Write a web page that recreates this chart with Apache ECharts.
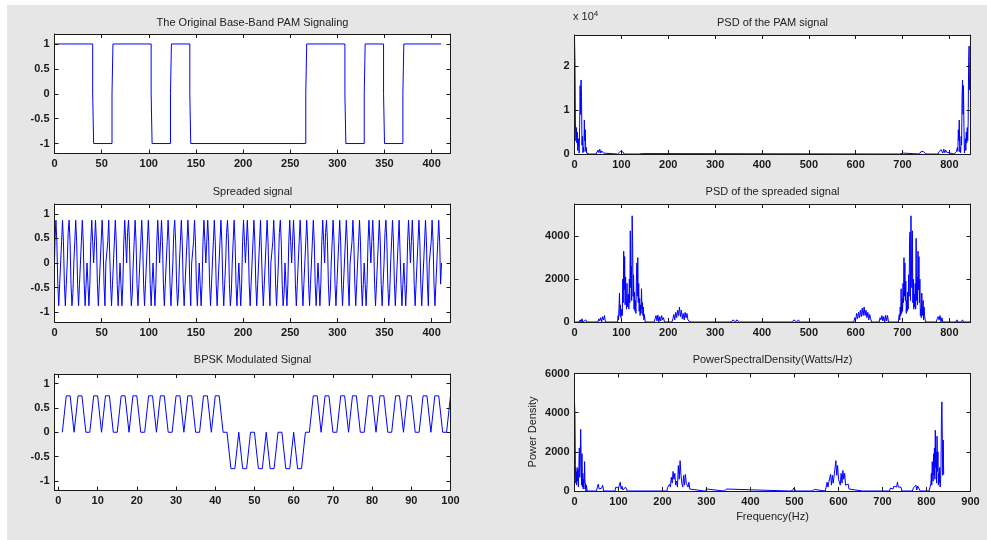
<!DOCTYPE html>
<html><head><meta charset="utf-8">
<script src="https://cdn.jsdelivr.net/npm/echarts@6/dist/echarts.min.js"></script>
<style>html,body{margin:0;padding:0;background:#fff}#c{width:987px;height:540px}</style>
</head><body><div id="c"></div>
<script>
// ---------- DATA ----------
const titles = ["The Original Base-Band PAM Signaling","Spreaded signal","BPSK Modulated Signal",
  "PSD of the PAM signal","PSD of the spreaded signal","PowerSpectralDensity(Watts/Hz)"];

// PAM: bit edges (x where level changes) and levels between them
const pamEdges = [40.5, 61, 102.5, 123, 143.5, 266.5, 308, 328.5, 349, 369.5];
const pamLevels = [1, -1, 1, -1, 1, -1, 1, -1, 1, -1, 1];
const pamEnd = 410;

// Spreaded signal samples, x = 0,1,2,...
const spreadVals = [
0,0.43,0.87,0.43,-0.43,-0.87,-0.43,
0,0.43,0.87,0.43,-0.43,-0.87,-0.43,
0,0.62,0.87,0.43,-0.43,-0.87,-0.62,
0,0.43,0.87,0.43,-0.43,-0.87,-0.43,
0,0.43,0.87,0.43,-0.43,-0.87,-0.43,
0,-0.43,-0.87,-0.43,0.43,0.87,0.43,
0,0.43,0.87,0.43,-0.43,-0.87,-0.43,
0,0,0.87,0.43,-0.43,-0.87,0,
0,0.43,0.87,0.87,-0.43,-0.87,-0.43,
0,0.43,0.87,0.43,-0.43,-0.87,-0.43,
0,-0.43,-0.87,-0.43,0.43,0.87,0.43,
0,0.62,0.87,0.43,-0.43,-0.87,-0.62,
0,0.43,0.87,0.43,-0.43,-0.87,-0.43,
0,0.43,0.87,0.43,-0.43,-0.87,-0.43,
0,0.43,0.87,0.43,-0.43,-0.87,-0.43,
0,-0.43,-0.87,-0.43,0.43,0.87,0.43,
0,0.43,0.87,0.43,-0.43,-0.87,-0.43,
0,0.43,0.87,0.43,-0.43,-0.87,-0.43,
0,0.62,0.87,0.43,-0.43,-0.87,-0.62,
0,0.43,0.87,0.43,-0.43,-0.87,-0.43,
0,0,0.87,0.43,-0.43,-0.87,0,
0,0.43,0.87,0.43,-0.43,-0.87,-0.43,
0,-0.43,-0.87,-0.43,0.43,0.87,0.43,
0,0.43,0.87,0.43,-0.43,-0.87,-0.43,
0,0.43,0.87,0.43,-0.43,-0.87,-0.43,
0,0.43,0.87,0.43,-0.43,-0.87,-0.43,
0,0.62,0.87,0.43,-0.43,-0.87,-0.62,
0,0.43,0.87,0.43,-0.43,-0.87,-0.43,
0,-0.43,-0.87,-0.43,0.43,0.87,0.43,
0,0.43,0.87,0.43,-0.43,-0.87,-0.43,
0,0.43,0.87,0.43,-0.43,-0.87,-0.43,
0,0.43,0.87,0.87,-0.43,-0.87,-0.43,
0,0,0.87,0.43,-0.43,-0.87,0,
0,0.43,0.87,0.43,-0.43,-0.87,-0.43,
0,0.62,0.87,0.43,-0.43,-0.87,-0.62,
0,-0.43,-0.87,-0.43,0.43,0.87,0.43,
0,0.43,0.87,0.43,-0.43,-0.87,-0.43,
0,0.43,0.87,0.43,-0.43,-0.87,-0.43,
0,0.43,0.87,0.43,-0.43,-0.87,-0.43,
0,0.43,0.87,0.43,-0.43,-0.87,-0.43,
0,-0.43,-0.87,-0.43,0.43,0.87,0.43,
0,0.62,0.87,0.43,-0.43,-0.87,-0.62,
0,0.43,0.87,0.43,-0.43,-0.87,-0.43,
0,0.43,0.87,0.43,-0.43,-0.87,-0.43,
0,0,0.87,0.43,-0.43,-0.87,0,
0,0.43,0.87,0.43,-0.43,-0.87,-0.43,
0,0.43,0.87,0.43,-0.43,-0.87,-0.43,
0,-0.43,-0.87,-0.43,0.43,0.87,0.43,
0,0.43,0.87,0.43,-0.43,-0.87,-0.43,
0,0.43,0.87,0.43,-0.43,-0.87,-0.43,
0,0.62,0.87,0.43,-0.43,-0.87,-0.62,
0,0.43,0.87,0.43,-0.43,-0.87,-0.43,
0,0.43,0.87,0.87,-0.43,-0.87,-0.43,
0,-0.43,-0.87,-0.43,0.43,0.87,0.43,
0,0.43,0.87,0.43,-0.43,-0.87,-0.43,
0,0.43,0.87,0.43,-0.43,-0.87,-0.43,
0,0,0.87,0.43,-0.43,-0.87,0,
0,0.43,0.87,0.43,-0.43,-0.87,-0.43,
0,0.43,0.87,0.43,-0.43,0
];

// BPSK samples, x = 1..100
const bpskVals = [
0,0.75,0.75,0,0.75,0.75,0,0,0.75,0.75,
0,0.75,0.75,0,0,0.75,0.75,0,0.75,0.75,
0,0,0.75,0.75,0,0.75,0.75,0,0,0.75,
0.75,0,0.75,0.75,0,0,0.75,0.75,0,0.75,
0.75,0,0,-0.75,-0.75,0,-0.75,-0.75,0,0,
-0.75,-0.75,0,-0.75,-0.75,0,0,-0.75,-0.75,0,
-0.75,-0.75,0,0,0.75,0.75,0,0.75,0.75,0,
0,0.75,0.75,0,0.75,0.75,0,0,0.75,0.75,
0,0.75,0.75,0,0,0.75,0.75,0,0.75,0.75,
0,0,0.75,0.75,0,0.75,0.75,0,0,0.75
];

// PSD of PAM signal: [frequency, value]
const psdPam = [
[0,26500],[1,21000],[2,7000],[3,3000],[4,6000],[5,2500],[6,5000],[7,800],[8,3500],[9,1500],[10,200],
[11,6000],[12,15500],[13,9000],[14,16800],[15,13000],[16,2000],[17,4000],[18,300],[19,1500],[20,500],
[21,7700],[22,3000],[23,5500],[24,600],[25,1500],[26,200],[27,500],[28,0],[30,200],[32,0],[46,0],
[48,400],[50,900],[52,300],[54,1100],[56,200],[58,700],[60,1000],[62,200],[64,500],[66,0],[92,0],
[95,300],[98,600],[100,200],[103,500],[106,0],[137,0],[140,200],[145,100],[148,0],
[694,0],[697,100],[702,200],[705,0],[736,0],[739,500],[742,200],[744,600],[747,300],[750,0],
[776,0],[778,500],[780,200],[782,1000],[784,700],[786,200],[788,1100],[790,300],[792,900],[794,400],[797,0],
[810,0],[812,200],[814,0],[815,500],[816,200],[817,1500],[818,600],[819,5500],[820,3000],[821,7700],
[822,500],[823,1500],[824,300],[825,4000],[826,2000],[827,13000],[828,16800],[829,9000],[830,15500],
[831,6000],[832,200],[833,1500],[834,3500],[835,800],[836,5000],[837,2500],[838,6000],[839,3000],
[840,7000],[841,21000],[842,24500],[843,14500]
];

// PSD of spreaded signal
const psdSpread = [
[0,0],[10,0],[12,100],[14,0],[16,150],[18,0],[22,0],[24,100],[26,0],
[50,0],[52,150],[54,50],[56,200],[58,0],[60,250],[62,100],[64,300],[66,0],
[92,0],[93,300],[94,100],[95,700],[96,1350],[97,300],[98,800],[99,200],[101,600],[102,300],[103,2000],
[104,900],[105,3300],[106,1500],[107,3050],[108,800],[109,2100],[110,1000],[111,600],[112,1800],[113,700],
[115,1300],[116,600],[117,2000],[118,900],[119,4250],[120,1600],[121,2600],[122,1000],[123,4950],[124,3800],
[125,1200],[126,2200],[127,600],[128,1400],[129,500],[130,1000],[131,400],[132,1900],[133,2750],[134,1200],
[135,3000],[136,900],[137,1800],[138,500],[139,1100],[140,300],[141,800],[142,400],[143,1550],[144,600],
[145,900],[146,300],[147,700],[148,100],[149,350],[151,0],
[170,0],[172,150],[174,300],[176,50],[178,320],[180,0],[182,250],[184,50],[186,300],[188,100],[190,200],[192,0],
[208,0],[210,150],[212,350],[214,100],[216,450],[218,200],[220,550],[222,300],[224,700],[226,250],[228,550],
[230,150],[232,400],[234,100],[236,450],[238,200],[240,400],[242,100],[244,150],[246,0],
[335,0],[338,100],[340,50],[342,120],[344,0],[346,100],[348,60],[350,120],[352,0],
[465,0],[468,100],[470,40],[472,120],[474,0],[478,100],[480,0],[490,0],[492,80],[494,0],
[596,0],[598,200],[600,100],[602,400],[604,150],[606,450],[608,200],[610,550],[612,250],[614,650],
[616,300],[618,700],[620,300],[622,550],[624,200],[626,450],[628,100],[630,350],[632,150],[634,0],
[650,0],[652,200],[654,100],[656,300],[658,50],[660,250],[662,0],[664,320],[666,50],[668,300],[670,0],
[691,0],[693,350],[694,100],[695,700],[696,300],[697,1550],[698,400],[699,1100],[700,500],[701,1800],
[702,900],[703,3000],[704,1200],[705,2750],[706,1000],[707,1900],[708,400],[709,1000],[710,500],[711,1400],
[712,600],[713,2200],[714,1200],[715,3800],[716,4200],[717,1000],[718,4950],[719,2600],[720,1600],[721,4250],
[722,900],[723,2000],[724,600],[725,1300],[726,700],[727,1800],[728,600],[729,3900],[730,1000],[731,2100],
[732,800],[733,3300],[734,1500],[735,3050],[736,900],[737,2000],[738,300],[739,600],[740,200],[741,1350],
[742,800],[743,300],[744,1000],[745,100],[746,700],[747,300],[749,0],
[772,0],[774,150],[776,250],[778,100],[780,300],[782,0],[784,200],[786,0],
[814,0],[816,100],[818,0],[826,0],[828,100],[830,0],[845,0]
];

// Power spectral density (BPSK)
const psdBpsk = [
[0,4550],[1,3900],[2,1300],[3,400],[4,1000],[5,300],[6,1200],[7,500],[8,1100],[9,200],[10,1300],
[11,2200],[12,700],[13,1500],[14,3150],[15,1900],[16,300],[17,1900],[18,200],[19,900],[20,100],
[21,600],[22,400],[23,1500],[24,100],[25,400],[26,0],[27,300],[29,0],
[50,0],[52,200],[54,350],[56,100],[58,200],[60,0],[62,150],[64,300],[66,0],
[92,0],[94,200],[96,100],[98,300],[100,150],[102,300],[104,450],[106,100],[108,250],[110,50],
[112,150],[114,0],[116,200],[118,100],[120,0],
[210,0],[212,200],[214,100],[216,350],[218,200],[220,700],[222,400],[224,1000],[226,600],[228,900],
[230,300],[232,500],[234,200],[236,1300],[238,600],[240,1550],[242,800],[244,400],[246,200],
[248,800],[250,300],[252,850],[254,400],[256,450],[258,200],[260,450],[262,100],[264,200],[266,0],
[295,0],[297,100],[299,50],[301,100],[303,0],[340,0],[342,80],[344,20],[346,100],[348,0],
[490,0],[492,50],[494,100],[496,30],[498,150],[500,50],[502,100],[504,0],[535,0],[538,80],[540,0],[545,80],[547,0],
[570,0],[572,200],[574,450],[576,200],[578,450],[580,400],[582,850],[584,300],[586,800],[588,400],
[590,500],[592,300],[594,1550],[596,800],[598,1300],[600,600],[602,500],[604,300],[606,900],[608,400],
[610,1050],[612,600],[614,900],[616,300],[618,300],[620,200],[622,350],[624,100],[626,0],
[655,0],[657,50],[659,0],
[716,0],[718,150],[720,50],[722,200],[724,100],[726,250],[728,150],[730,300],[732,200],[734,450],
[736,200],[738,300],[740,100],[742,200],[744,0],
[768,0],[770,150],[772,250],[774,100],[776,300],[778,50],[780,250],[782,150],[784,300],[786,0],
[806,0],[808,200],[810,400],[811,900],[812,300],[813,1500],[814,800],[815,500],[816,1900],[817,800],
[818,2200],[819,600],[820,3100],[821,1200],[822,2000],[823,400],[824,2800],[825,1000],[826,2000],
[827,300],[828,900],[829,400],[830,1200],[831,200],[832,600],[833,1300],[834,3900],[835,4550],
[836,2700],[837,800],[838,2600],[839,850]
];

// tick values
const ticksSig = [-1, -0.5, 0, 0.5, 1];
const ticksX420 = [0,50,100,150,200,250,300,350,400];
const ticksX100 = [0,10,20,30,40,50,60,70,80,90,100];
const ticksF800 = [0,100,200,300,400,500,600,700,800];
const ticksF900 = [0,100,200,300,400,500,600,700,800,900];
const ticksPam = [0,10000,20000];
const ticksSpr = [0,2000,4000];
const ticksBp = [0,2000,4000,6000];

// ---------- BUILD ----------
const pamData = [[0, pamLevels[0]]];
pamEdges.forEach((e, i) => {
  pamData.push([e, pamLevels[i]], [e, 0], [e + 1, 0], [e + 1, pamLevels[i + 1]]);
});
pamData.push([pamEnd, pamLevels[pamLevels.length - 1]]);
const spreadData = spreadVals.map((v, i) => [i, v]);
const bpskData = bpskVals.map((v, i) => [i + 1, v]);

const FONT = 'Liberation Sans, Arial, sans-serif';
const AX = '#1a1a1a';
const gridPos = [
  {left:54.5, top:34, width:396, height:119.5},
  {left:54.5, top:204, width:396, height:118},
  {left:54.5, top:374, width:396, height:116.5},
  {left:574.5, top:35, width:396, height:119},
  {left:574.5, top:204, width:396, height:118},
  {left:574.5, top:373.5, width:396, height:117.5}
];
const specs = [
  {xmin:0, xmax:420, xt:ticksX420, ymin:-1.2, ymax:1.2, yt:ticksSig, data:pamData},
  {xmin:0, xmax:420, xt:ticksX420, ymin:-1.2, ymax:1.2, yt:ticksSig, data:spreadData, step:'middle'},
  {xmin:-1, xmax:100, xt:ticksX100, ymin:-1.2, ymax:1.2, yt:ticksSig, data:bpskData},
  {xmin:0, xmax:845, xt:ticksF800, ymin:0, ymax:27000, yt:ticksPam, data:psdPam, yfmt:v => String(v/10000)},
  {xmin:0, xmax:845, xt:ticksF800, ymin:0, ymax:5500, yt:ticksSpr, data:psdSpread},
  {xmin:0, xmax:900, xt:ticksF900, ymin:0, ymax:6000, yt:ticksBp, data:psdBpsk}
];
const xAxis = [], yAxis = [], series = [];
const lbl = {color:'#1a1a1a', fontFamily:FONT, fontSize:11, fontWeight:'bold'};
specs.forEach((s, i) => {
  ['bottom','top'].forEach((pos, k) => {
    xAxis.push({type:'value', gridIndex:i, position:pos, min:s.xmin, max:s.xmax, z:3,
      axisLine:{show:true, onZero:false, lineStyle:{color:AX, width:1}},
      axisTick:{show:true, inside:true, length:4, customValues:s.xt, lineStyle:{color:AX}},
      axisLabel:{show:k===0, margin:5, customValues:s.xt, ...lbl},
      splitLine:{show:false}});
  });
  ['left','right'].forEach((pos, k) => {
    yAxis.push({type:'value', gridIndex:i, position:pos, min:s.ymin, max:s.ymax, z:3,
      axisLine:{show:true, onZero:false, lineStyle:{color:AX, width:1}},
      axisTick:{show:true, inside:true, length:4, customValues:s.yt, lineStyle:{color:AX}},
      axisLabel:{show:k===0, margin:5, customValues:s.yt, formatter:s.yfmt || (v => String(v)), ...lbl},
      splitLine:{show:false}});
  });
  series.push({type:'line', xAxisIndex:2*i, yAxisIndex:2*i, data:s.data, showSymbol:false,
    step:s.step || false, z:2,
    symbol:'none', lineStyle:{color:'#0000ff', width:1}, clip:true, silent:true});
});

const txt = (x, y, t, extra) => ({type:'text', x, y, silent:true,
  style:Object.assign({text:t, fill:'#222', font:'11px ' + FONT, textAlign:'center', textVerticalAlign:'middle'}, extra || {})});
const graphic = {z:0, elements:[
  {type:'rect', shape:{x:0, y:0, width:987, height:5}, style:{fill:'#ffffff'}, silent:true},
  {type:'rect', shape:{x:0, y:0, width:7, height:540}, style:{fill:'#ffffff'}, silent:true},
  ...gridPos.map(g => ({type:'rect', shape:{x:g.left, y:g.top, width:g.width, height:g.height},
     style:{fill:'#ffffff'}, silent:true})),
  txt(252.5, 23, titles[0]), txt(252.5, 192, titles[1]), txt(252.5, 360, titles[2]),
  txt(772.5, 23, titles[3]), txt(772.5, 192, titles[4]), txt(772.5, 360, titles[5]),
  txt(772.5, 517, 'Frequency(Hz)'),
  {type:'text', x:533, y:432, rotation:Math.PI/2, silent:true,
   style:{text:'Power Density', fill:'#222', font:'11px ' + FONT, textAlign:'center', textVerticalAlign:'middle'}},
  {type:'text', x:573, y:17, silent:true,
   style:{text:'{a|x 10}{b|4}', fill:'#222', textVerticalAlign:'middle',
     rich:{a:{fontSize:11, fontFamily:FONT, fill:'#222'}, b:{fontSize:8, fontFamily:FONT, verticalAlign:'top', padding:[0,0,6,0], fill:'#222'}}}}
]};

const chart = echarts.init(document.getElementById('c'), null, {renderer:'canvas', width:987, height:540});
chart.setOption({backgroundColor:'#e6e6e6', animation:false, grid:gridPos, xAxis, yAxis, series, graphic});
</script></body></html>
